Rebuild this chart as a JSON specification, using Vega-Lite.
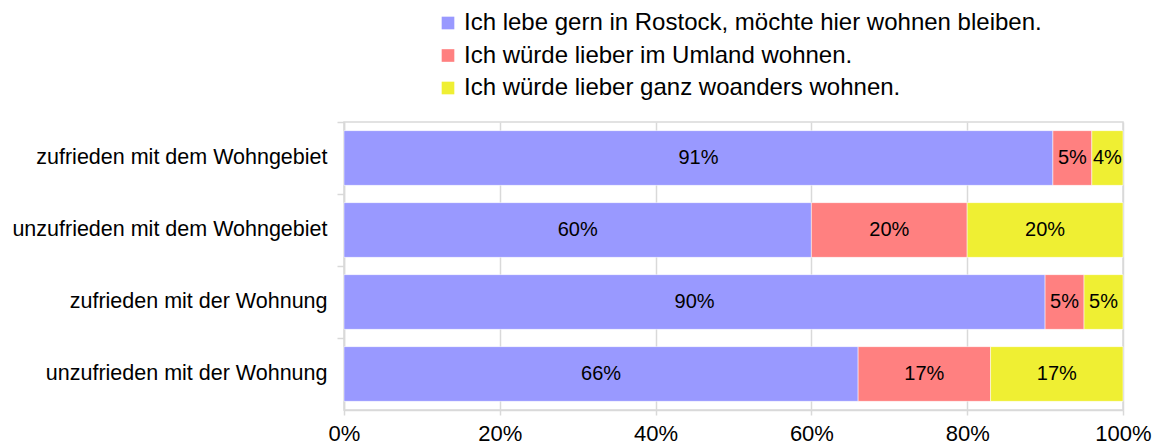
{
  "$schema": "https://vega.github.io/schema/vega-lite/v6.json",
  "width": 779,
  "height": 288,
  "autosize": {"type": "none"},
  "padding": {"left": 344, "top": 122, "right": 34, "bottom": 31},
  "background": "white",
  "config": {
    "font": "Liberation Sans",
    "view": {"stroke": "#d9d9d9", "strokeWidth": 1.5}
  },
  "data": {
    "values": [
      {"group": "zufrieden mit dem Wohngebiet", "answer": "Ich lebe gern in Rostock, möchte hier wohnen bleiben.", "n": 1, "share": 0.91},
      {"group": "zufrieden mit dem Wohngebiet", "answer": "Ich würde lieber im Umland wohnen.", "n": 2, "share": 0.05},
      {"group": "zufrieden mit dem Wohngebiet", "answer": "Ich würde lieber ganz woanders wohnen.", "n": 3, "share": 0.04},
      {"group": "unzufrieden mit dem Wohngebiet", "answer": "Ich lebe gern in Rostock, möchte hier wohnen bleiben.", "n": 1, "share": 0.60},
      {"group": "unzufrieden mit dem Wohngebiet", "answer": "Ich würde lieber im Umland wohnen.", "n": 2, "share": 0.20},
      {"group": "unzufrieden mit dem Wohngebiet", "answer": "Ich würde lieber ganz woanders wohnen.", "n": 3, "share": 0.20},
      {"group": "zufrieden mit der Wohnung", "answer": "Ich lebe gern in Rostock, möchte hier wohnen bleiben.", "n": 1, "share": 0.90},
      {"group": "zufrieden mit der Wohnung", "answer": "Ich würde lieber im Umland wohnen.", "n": 2, "share": 0.05},
      {"group": "zufrieden mit der Wohnung", "answer": "Ich würde lieber ganz woanders wohnen.", "n": 3, "share": 0.05},
      {"group": "unzufrieden mit der Wohnung", "answer": "Ich lebe gern in Rostock, möchte hier wohnen bleiben.", "n": 1, "share": 0.66},
      {"group": "unzufrieden mit der Wohnung", "answer": "Ich würde lieber im Umland wohnen.", "n": 2, "share": 0.17},
      {"group": "unzufrieden mit der Wohnung", "answer": "Ich würde lieber ganz woanders wohnen.", "n": 3, "share": 0.17}
    ]
  },
  "transform": [
    {"stack": "share", "groupby": ["group"], "offset": "normalize", "sort": [{"field": "n", "order": "ascending"}], "as": ["s0", "s1"]}
  ],
  "encoding": {
    "y": {
      "field": "group",
      "type": "nominal",
      "sort": null,
      "scale": {"paddingInner": 0, "paddingOuter": 0},
      "axis": {
        "title": null,
        "bandPosition": 0,
        "labelOffset": 0,
        "labelFontSize": 21.5,
        "labelColor": "#000000",
        "labelPadding": 10,
        "labelLimit": 400,
        "tickSize": 7,
        "tickColor": "#d9d9d9",
        "tickWidth": 1.5,
        "domainColor": "#d9d9d9",
        "domainWidth": 1.5,
        "grid": false
      }
    }
  },
  "layer": [
    {
      "mark": {"type": "bar", "height": {"band": 0.76}, "stroke": "#ffffff", "strokeOpacity": 0.5, "strokeWidth": 1},
      "encoding": {
        "x": {
          "field": "s0",
          "type": "quantitative",
          "scale": {"domain": [0, 1], "nice": false},
          "axis": {
            "title": null,
            "format": ".0%",
            "values": [0, 0.2, 0.4, 0.6, 0.8, 1],
            "labelFlush": false,
            "labelOverlap": false,
            "labelFontSize": 22,
            "labelColor": "#000000",
            "labelPadding": 8,
            "tickSize": 5,
            "tickColor": "#d9d9d9",
            "tickWidth": 1.5,
            "domainColor": "#d9d9d9",
            "domainWidth": 1.5,
            "grid": true,
            "gridColor": "#d9d9d9",
            "gridWidth": 1.5
          }
        },
        "x2": {"field": "s1"},
        "color": {
          "field": "answer",
          "type": "nominal",
          "sort": null,
          "scale": {
            "domain": ["Ich lebe gern in Rostock, möchte hier wohnen bleiben.", "Ich würde lieber im Umland wohnen.", "Ich würde lieber ganz woanders wohnen."],
            "range": ["#9999ff", "#ff8080", "#efef33"]
          },
          "legend": {
            "title": null,
            "orient": "none",
            "legendX": 92,
            "legendY": -111,
            "symbolType": "square",
            "symbolSize": 160,
            "symbolStrokeWidth": 0,
            "labelFontSize": 24,
            "labelColor": "#000000",
            "labelOffset": 4,
            "labelLimit": 900,
            "rowPadding": 8.5
          }
        }
      }
    },
    {
      "transform": [
        {"fold": ["s0", "s1"], "as": ["edge", "pos"]}
      ],
      "mark": {"type": "text", "fontSize": 20, "color": "#000000"},
      "encoding": {
        "x": {"field": "pos", "type": "quantitative", "aggregate": "mean"},
        "detail": {"field": "answer", "type": "nominal"},
        "text": {"field": "share", "type": "quantitative", "format": ".0%"}
      }
    }
  ]
}
